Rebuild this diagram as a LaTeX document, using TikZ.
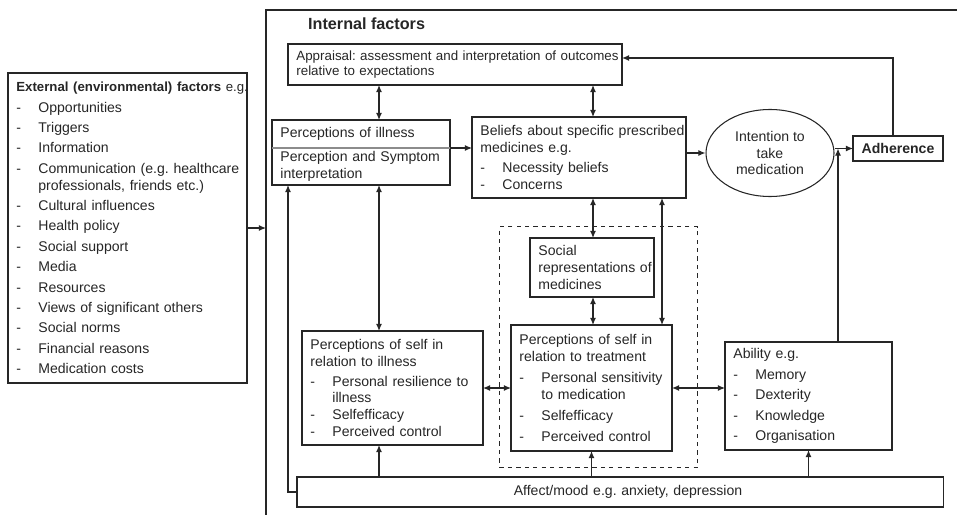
\documentclass[tikz,border=0pt]{standalone}
\usepackage{fontspec}
\setmainfont{Liberation Sans}
\usetikzlibrary{positioning,shapes.geometric,arrows.meta}
\frenchspacing
\newcommand{\dsh}{\makebox[5.5mm][l]{-}}
\newcommand{\ind}{\hspace*{5.5mm}}

\begin{document}
\begin{tikzpicture}[x=0.25mm, y=-0.25mm, line width=0.75pt, color=black!85,
    >={Latex[length=1.8mm,width=1.5mm]}, font=\fontsize{10}{12}\selectfont]
    \tikzstyle{box}=[draw, rectangle, anchor=north west, align=left, inner xsep=2.1mm, inner ysep=0pt, outer sep=0pt]
    \useasboundingbox (0,0) rectangle (957,515);

    % internal factors frame (runs off the right and bottom)
    \node (intf) [draw, anchor=north west, outer sep=0pt, minimum width=173.5mm, minimum height=127.5mm] at (266,10) {};
    \node (intl) [anchor=west, font=\fontsize{11.5}{13}\selectfont\bfseries] at (303,24) {Internal factors};

    \node (ext) [box, text width=55.55mm, minimum height=77.5mm] at (8,73) {\mbox{\fontsize{9.4}{12}\selectfont\textbf{External (environmental) factors} e.g.}\\[2.5pt]
        \dsh Opportunities\\[2.5pt]
        \dsh Triggers\\[2.5pt]
        \dsh Information\\[2.5pt]
        \dsh\mbox{Communication (e.g. healthcare}\\
        \ind professionals, friends etc.)\\[2.5pt]
        \dsh Cultural influences\\[2.5pt]
        \dsh Health policy\\[2.5pt]
        \dsh Social support\\[2.5pt]
        \dsh Media\\[2.5pt]
        \dsh Resources\\[2.5pt]
        \dsh Views of significant others\\[2.5pt]
        \dsh Social norms\\[2.5pt]
        \dsh Financial reasons\\[2.5pt]
        \dsh Medication costs};

    \node (appr) [box, text width=79.3mm, minimum height=10.25mm, font=\fontsize{9.5}{11}\selectfont] at (288,44) {\mbox{Appraisal: assessment and interpretation of outcomes}\\relative to expectations};
    \node (ill) [box, text width=40.3mm, minimum height=7mm] at (272,120) {Perceptions of illness};
    \node (symp) [box, text width=40.3mm, minimum height=9.25mm, below=0pt of ill] {\mbox{Perception and Symptom}\\interpretation};
    \draw [black!45] (ill.south west) -- (ill.south east);
    \node (belief) [box, text width=49.3mm, minimum height=20.25mm] at (472,117) {\mbox{Beliefs about specific prescribed}\\medicines e.g.\\[2.5pt]\dsh Necessity beliefs\\\dsh Concerns};
    \node (intent) [draw, ellipse, minimum width=32mm, minimum height=21.75mm, inner sep=0pt, align=center] at (770,153) {Intention to\\take\\medication};
    \node (adh) [box, minimum width=22.5mm, minimum height=6.25mm, font=\fontsize{10}{12}\selectfont\bfseries] at (853,136) {Adherence};

    \node (treatgrp) [draw, dashed, anchor=north west, minimum width=49.5mm, minimum height=60.25mm] at (499,226) {};
    \node (social) [box, text width=26.8mm, minimum height=14.75mm] at (530,238) {Social\\\mbox{representations of}\\medicines};
    \node (selftr) [box, text width=36.05mm, minimum height=31.5mm] at (511,325) {Perceptions of self in\\relation to treatment\\[3pt]\dsh\mbox{Personal sensitivity}\\\ind to medication\\[3pt]\dsh Selfefficacy\\[3pt]\dsh Perceived control};
    \node (selfill) [box, text width=41.05mm, minimum height=28.5mm] at (302,331) {Perceptions of self in\\relation to illness\\[2pt]\dsh Personal resilience to\\\ind illness\\\dsh Selfefficacy\\\dsh Perceived control};
    \node (abil) [box, text width=37.55mm, minimum height=27mm] at (725,342) {Ability e.g.\\[3pt]\dsh Memory\\[2.5pt]\dsh Dexterity\\[2.5pt]\dsh Knowledge\\[2.5pt]\dsh Organisation};
    \node (affect) [box, text width=157.3mm, minimum height=7.5mm, align=center] at (297,477) {\hspace*{4mm}Affect/mood e.g. anxiety, depression};

    \coordinate (cA) at (379,0);
    \coordinate (cB) at (593,0);
    \coordinate (cC) at (662,0);
    \coordinate (cF) at (838,0);
    \coordinate (cG) at (893,58);
    \coordinate (cL) at (288,0);

    \draw [->] (ext.east) -- (ext.east -| intf.west);
    \draw [<->] (appr.south -| cA) -- (ill.north -| cA);
    \draw [<->] (appr.south -| cB) -- (belief.north -| cB);
    \draw [->] (ill.south east) -- (ill.south east -| belief.west);
    \draw [->] (belief.east |- intent) -- (intent.west);
    \draw [->] (intent.east |- adh.west) -- (adh.west);
    \draw [->] (adh.north -| cG) -- (cG) -- (cG -| appr.east);
    \draw [->] (abil.north -| cF) -- (cF |- adh.west);
    \draw [<->] (symp.south -| cA) -- (selfill.north -| cA);
    \draw [->] (affect.north -| cA) -- (selfill.south -| cA);
    \draw [->] (affect.west) -| (symp.south -| cL);
    \draw [<->] (belief.south -| cB) -- (social.north -| cB);
    \draw [<->] (social.south -| cB) -- (selftr.north -| cB);
    \draw [<->] (belief.south -| cC) -- (selftr.north -| cC);
    \draw [<->] (selfill.east) -- (selfill.east -| selftr.west);
    \draw [<->] (selftr.east) -- (selftr.east -| abil.west);
    \draw [->] (affect.north -| selftr.south) -- (selftr.south);
    \draw [->] (affect.north -| abil.south) -- (abil.south);
\end{tikzpicture}
\end{document}
